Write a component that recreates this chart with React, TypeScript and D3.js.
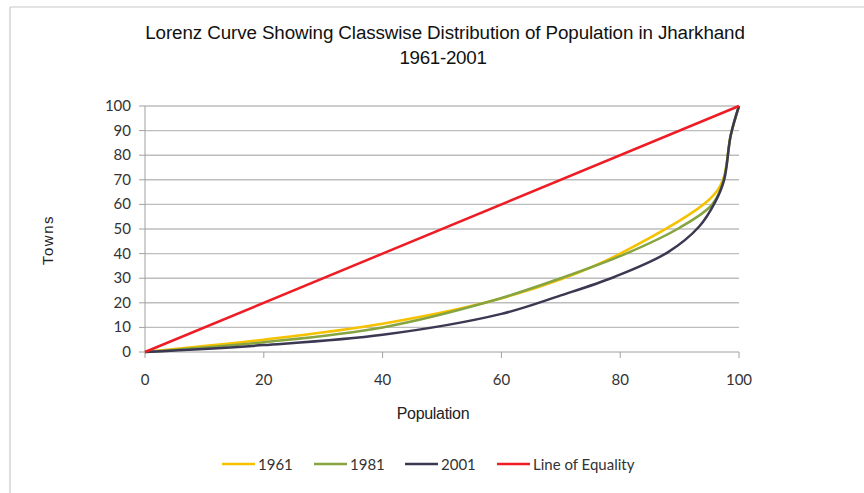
import React from "react";
import * as d3 from "d3";

const title1 = "Lorenz Curve Showing Classwise Distribution  of Population in Jharkhand";
const title2 = "1961-2001";
const xTicks = [0, 20, 40, 60, 80, 100];
const yTicks = [0, 10, 20, 30, 40, 50, 60, 70, 80, 90, 100];

const s1961: [number, number][] = [[0, 0], [20, 5], [40, 11.5], [58, 20.5], [70, 29.5], [80, 40], [95, 62], [97.3, 70], [98.6, 88], [100, 100]];
const s1981: [number, number][] = [[0, 0], [20, 4], [40, 10], [58, 20.5], [70, 30], [81, 40], [90, 50.5], [95.5, 60], [97.4, 70], [98.6, 88], [100, 100]];
const s2001: [number, number][] = [[0, 0], [20, 2.8], [40, 7], [60, 15.5], [70, 23], [79, 30.5], [88, 40.5], [93.3, 51], [96, 61], [97.5, 70], [98.6, 88], [100, 100]];
const equality: [number, number][] = [[0, 0], [100, 100]];

const series = [
  { name: "1961", data: s1961, color: "#f6c200" },
  { name: "1981", data: s1981, color: "#86a43f" },
  { name: "2001", data: s2001, color: "#3b3852" },
  { name: "Line of Equality", data: equality, color: "#ee1c25" },
];

const legendX = [222, 314, 405, 497];

export default function App() {
  const W = 864, H = 493;
  const x = d3.scaleLinear().domain([0, 100]).range([145, 739]);
  const y = d3.scaleLinear().domain([0, 100]).range([352, 106]);
  const line = d3.line<[number, number]>().x(d => x(d[0])).y(d => y(d[1])).curve(d3.curveCatmullRom.alpha(0.5));
  const sans = "'Liberation Sans', Arial, sans-serif";
  const calib = "Lato, 'Open Sans', sans-serif";
  return (
    <svg width={W} height={H} style={{ position: "absolute", left: 0, top: 0 }}>
      <rect x={0} y={0} width={W} height={H} fill="#fff" />
      <line x1={10} y1={7} x2={W} y2={7} stroke="#c8c8c8" strokeWidth={1.2} />
      <line x1={10} y1={7} x2={10} y2={H} stroke="#c8c8c8" strokeWidth={1.2} />
      <text x={445} y={39} textAnchor="middle" fontFamily={sans} fontSize={18.8} letterSpacing={-0.1} fill="#111">{title1}</text>
      <text x={443} y={64} textAnchor="middle" fontFamily={sans} fontSize={18.8} letterSpacing={-0.3} fill="#111">{title2}</text>
      {yTicks.filter(t => t > 0).map(t => (
        <line key={"g" + t} x1={x(0)} x2={x(100)} y1={y(t)} y2={y(t)} stroke="#bdbdbd" strokeWidth={1.4} />
      ))}
      <line x1={x(0)} x2={x(0)} y1={y(0)} y2={y(100)} stroke="#a0a0a0" strokeWidth={1} />
      <line x1={x(0)} x2={x(100)} y1={y(0)} y2={y(0)} stroke="#a0a0a0" strokeWidth={1} />
      {yTicks.map(t => (
        <g key={"y" + t}>
          <line x1={x(0) - 6} x2={x(0)} y1={y(t)} y2={y(t)} stroke="#a0a0a0" />
          <text x={131} y={y(t) + 5} textAnchor="end" fontFamily={calib} fontSize={15} fill="#333">{t}</text>
        </g>
      ))}
      {xTicks.map(t => (
        <g key={"x" + t}>
          <line x1={x(t)} x2={x(t)} y1={y(0)} y2={y(0) + 6} stroke="#a0a0a0" />
          <text x={x(t)} y={385} textAnchor="middle" fontFamily={calib} fontSize={15} fill="#333">{t}</text>
        </g>
      ))}
      <text transform="translate(53,240) rotate(-90)" textAnchor="middle" fontFamily={sans} fontSize={15} letterSpacing={1.5} fill="#222">Towns</text>
      <text x={433} y={419} textAnchor="middle" fontFamily={sans} fontSize={16} letterSpacing={-0.3} fill="#222">Population</text>
      {series.map(s => (
        <path key={s.name} d={line(s.data) || ""} fill="none" stroke={s.color} strokeWidth={2.5} strokeLinejoin="round" />
      ))}
      {series.map((s, i) => (
        <g key={"l" + s.name}>
          <line x1={legendX[i]} x2={legendX[i] + 33} y1={464} y2={464} stroke={s.color} strokeWidth={2.5} />
          <text x={legendX[i] + 36} y={469.5} fontFamily={calib} fontSize={15} fill="#333">{s.name}</text>
        </g>
      ))}
    </svg>
  );
}
